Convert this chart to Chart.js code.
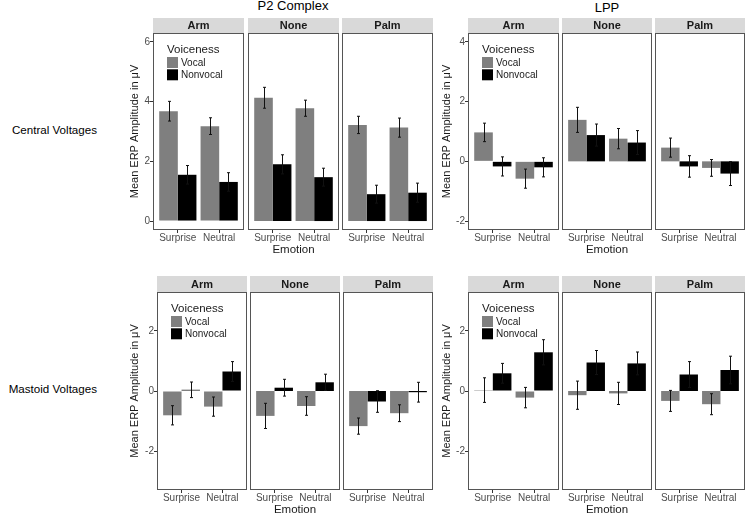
<!DOCTYPE html>
<html>
<head>
<meta charset="utf-8">
<script src="https://cdn.jsdelivr.net/npm/chart.js@4.4.1/dist/chart.umd.min.js"></script>
<style>
  body { margin: 0; background: #fff; width: 746px; height: 514px; position: relative; overflow: hidden;
         font-family: "Liberation Sans", Arial, sans-serif; }
  canvas { position: absolute; }
  .t { position: absolute; line-height: 1; white-space: nowrap; color: #000; }
</style>
</head>
<body>
<div class="t" style="left:293px;top:-1.5px;font-size:13px;transform:translateX(-50%)">P2 Complex</div>
<div class="t" style="left:607px;top:1.3px;font-size:13px;transform:translateX(-50%)">LPP</div>
<div class="t" style="right:649px;top:123.5px;font-size:11.6px">Central Voltages</div>
<div class="t" style="right:649px;top:382.9px;font-size:11.6px">Mastoid Voltages</div>

<script>
const emotions = ['Surprise', 'Neutral'];
const conditions = ['Arm', 'None', 'Palm'];
const voiceness = ['Vocal', 'Nonvocal'];
const legendTitle = 'Voiceness';

// one [Surprise, Neutral] pair per condition (Arm, None, Palm)
const p2CentralVocal       = [[3.68, 3.18], [4.13, 3.78], [3.22, 3.13]];
const p2CentralVocalSE     = [[0.33, 0.28], [0.35, 0.27], [0.29, 0.32]];
const p2CentralNonvocal    = [[1.55, 1.31], [1.90, 1.47], [0.90, 0.95]];
const p2CentralNonvocalSE  = [[0.31, 0.31], [0.32, 0.30], [0.30, 0.32]];

const lppCentralVocal      = [[0.97, -0.58], [1.39, 0.76], [0.46, -0.22]];
const lppCentralVocalSE    = [[0.31, 0.32], [0.42, 0.34], [0.32, 0.28]];
const lppCentralNonvocal   = [[-0.17, -0.20], [0.88, 0.63], [-0.17, -0.41]];
const lppCentralNonvocalSE = [[0.32, 0.32], [0.37, 0.40], [0.36, 0.40]];

const p2MastoidVocal       = [[-0.81, -0.52], [-0.83, -0.50], [-1.17, -0.74]];
const p2MastoidVocalSE     = [[0.32, 0.32], [0.42, 0.31], [0.27, 0.28]];
const p2MastoidNonvocal    = [[0.04, 0.65], [0.11, 0.29], [-0.35, -0.04]];
const p2MastoidNonvocalSE  = [[0.26, 0.33], [0.28, 0.27], [0.36, 0.33]];

const lppMastoidVocal      = [[0.03, -0.22], [-0.14, -0.08], [-0.33, -0.44]];
const lppMastoidVocalSE    = [[0.41, 0.34], [0.47, 0.37], [0.35, 0.35]];
const lppMastoidNonvocal   = [[0.59, 1.29], [0.95, 0.92], [0.55, 0.70]];
const lppMastoidNonvocalSE = [[0.33, 0.42], [0.40, 0.38], [0.43, 0.46]];

const p2CentralTicks = [0, 2, 4, 6];
const lppCentralTicks = [-2, 0, 2, 4];
const mastoidTicks = [-2, 0, 2];

const FONT = '"Liberation Sans", Arial, sans-serif';
Chart.defaults.font.family = FONT;

const colors = ['#7f7f7f', '#000000'];
const yTitle = 'Mean ERP Amplitude in μV';
const xTitle = 'Emotion';
const XH = 27;

const groups = [
  { vocal: p2CentralVocal, vocalSE: p2CentralVocalSE, nonvocal: p2CentralNonvocal, nonvocalSE: p2CentralNonvocalSE,
    ticks: p2CentralTicks, yMin: -0.3, yMax: 6.3, top: 33, bottom: 230, strip: 15, yw: 25,
    xs: [[153, 244], [248, 339], [342, 433]] },
  { vocal: lppCentralVocal, vocalSE: lppCentralVocalSE, nonvocal: lppCentralNonvocal, nonvocalSE: lppCentralNonvocalSE,
    ticks: lppCentralTicks, yMin: -2.3, yMax: 4.3, top: 33, bottom: 230, strip: 15, yw: 28,
    xs: [[468, 559], [562, 652], [655, 745]] },
  { vocal: p2MastoidVocal, vocalSE: p2MastoidVocalSE, nonvocal: p2MastoidNonvocal, nonvocalSE: p2MastoidNonvocalSE,
    ticks: mastoidTicks, yMin: -3.3, yMax: 3.3, top: 292, bottom: 490, strip: 16, yw: 29,
    xs: [[157, 247], [250, 340], [343, 433]] },
  { vocal: lppMastoidVocal, vocalSE: lppMastoidVocalSE, nonvocal: lppMastoidNonvocal, nonvocalSE: lppMastoidNonvocalSE,
    ticks: mastoidTicks, yMin: -3.3, yMax: 3.3, top: 292, bottom: 490, strip: 16, yw: 28,
    xs: [[468, 559], [562, 652], [655, 745]] },
];

const errorBars = {
  id: 'errorBars',
  afterDatasetsDraw(chart) {
    const ctx = chart.ctx, y = chart.scales.y;
    ctx.save();
    ctx.strokeStyle = '#111';
    ctx.lineWidth = 1;
    chart.data.datasets.forEach((ds, i) => {
      chart.getDatasetMeta(i).data.forEach((bar, j) => {
        const m = ds.data[j].y, s = ds.se[j];
        const t = y.getPixelForValue(m + s), b = y.getPixelForValue(m - s);
        const x = Math.round(bar.x) + 0.5;
        ctx.beginPath();
        ctx.moveTo(x, t); ctx.lineTo(x, b);
        ctx.moveTo(x - 1.5, t); ctx.lineTo(x + 1.5, t);
        ctx.moveTo(x - 1.5, b); ctx.lineTo(x + 1.5, b);
        ctx.stroke();
      });
    });
    ctx.restore();
  }
};

const facetDecor = {
  id: 'facetDecor',
  beforeDraw(chart, args, opts) {
    const ctx = chart.ctx, a = chart.chartArea;
    ctx.save();
    ctx.fillStyle = '#d9d9d9';
    ctx.fillRect(a.left, a.top - opts.strip, a.right - a.left, opts.strip);
    ctx.fillStyle = '#1a1a1a';
    ctx.font = 'bold 11px ' + FONT;
    ctx.textAlign = 'center';
    ctx.textBaseline = 'middle';
    ctx.fillText(opts.label, (a.left + a.right) / 2, a.top - opts.strip / 2 + 0.5);
    ctx.restore();
  },
  afterDraw(chart, args, opts) {
    const ctx = chart.ctx, a = chart.chartArea;
    ctx.save();
    ctx.strokeStyle = '#555';
    ctx.lineWidth = 1;
    ctx.strokeRect(a.left + 0.5, a.top + 0.5, a.right - a.left - 1, a.bottom - a.top - 1);
    if (opts.legend) {
      const lx = a.left + 14, ly = a.top;
      ctx.textAlign = 'left';
      ctx.textBaseline = 'middle';
      ctx.fillStyle = '#1a1a1a';
      ctx.font = '11.5px ' + FONT;
      ctx.fillText(legendTitle, lx, ly + 16.5);
      chart.data.datasets.forEach((ds, i) => {
        const ky = ly + 24 + i * 12.3;
        ctx.fillStyle = ds.backgroundColor;
        ctx.fillRect(lx, ky, 11, 11);
        ctx.fillStyle = '#1a1a1a';
        ctx.font = '10px ' + FONT;
        ctx.fillText(ds.label, lx + 14, ky + 6);
      });
    }
    ctx.restore();
  }
};

function makeFacet(g, k) {
  const first = k === 0;
  const [x0, x1] = g.xs[k];
  const lw = first ? g.yw : 1;
  const cv = document.createElement('canvas');
  const w = (x1 - x0) + lw + 1;
  const h = g.strip + 1 + (g.bottom - g.top) + XH;
  cv.width = w; cv.height = h;
  cv.style.left = (x0 - lw) + 'px';
  cv.style.top = (g.top - g.strip - 1) + 'px';
  cv.style.width = w + 'px';
  cv.style.height = h + 'px';
  document.body.appendChild(cv);

  const series = [[g.vocal, g.vocalSE], [g.nonvocal, g.nonvocalSE]];
  new Chart(cv.getContext('2d'), {
    type: 'bar',
    data: {
      datasets: series.map(([vals, se], i) => ({
        label: voiceness[i],
        data: emotions.map((e, j) => ({ x: j + 1, y: vals[k][j] })),
        se: se[k],
        backgroundColor: colors[i],
        borderWidth: 0,
        categoryPercentage: 0.9,
        barPercentage: 1.0,
      }))
    },
    options: {
      responsive: false,
      animation: false,
      devicePixelRatio: 1,
      layout: { padding: { top: g.strip + 1, right: 1, bottom: 0, left: first ? 0 : 1 } },
      plugins: {
        legend: { display: false },
        tooltip: { enabled: false },
        facetDecor: { label: conditions[k], strip: g.strip, legend: first },
      },
      scales: {
        x: {
          type: 'linear', min: 0.4, max: 2.6, bounds: 'data', offset: false,
          afterBuildTicks: s => { s.ticks = emotions.map((e, j) => ({ value: j + 1 })); },
          afterFit: s => { s.height = XH; },
          ticks: { callback: v => emotions[v - 1], autoSkip: false, maxRotation: 0, padding: -1,
                   color: '#4d4d4d', font: { size: 10 } },
          grid: { drawOnChartArea: false, drawTicks: true, tickLength: 3, tickColor: '#333', offset: false },
          border: { display: false },
          title: { display: k === 1, text: xTitle, color: '#1a1a1a', font: { size: 11.5 }, padding: 0 },
        },
        y: {
          display: first,
          min: g.yMin, max: g.yMax, bounds: 'data',
          afterBuildTicks: s => { s.ticks = g.ticks.map(v => ({ value: v })); },
          afterFit: s => { s.width = first ? g.yw : 0; },
          ticks: { padding: 0, color: '#4d4d4d', font: { size: 10 } },
          grid: { drawOnChartArea: false, drawTicks: true, tickLength: 3, tickColor: '#333' },
          border: { display: false },
          title: { display: first, text: yTitle, color: '#1a1a1a', font: { size: 11 }, padding: 0 },
        }
      }
    },
    plugins: [errorBars, facetDecor]
  });
}

groups.forEach(g => conditions.forEach((c, k) => makeFacet(g, k)));
</script>
</body>
</html>
